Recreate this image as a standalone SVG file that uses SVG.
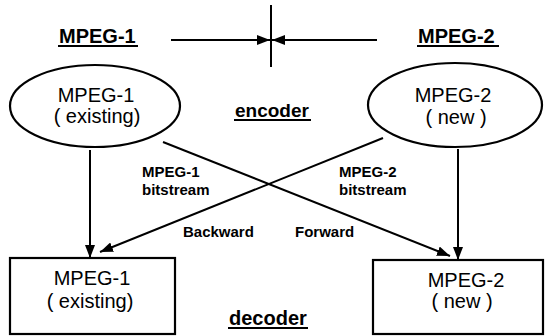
<svg xmlns="http://www.w3.org/2000/svg" width="550" height="336" viewBox="0 0 550 336">
<style>
  .ln { stroke: #000; stroke-width: 2; fill: none; }
  .shape { stroke: #000; stroke-width: 2.2; fill: #fff; }
  .big { font-family: "Liberation Sans", Arial, sans-serif; font-size: 20px; fill: #000; text-anchor: middle; }
  .lbl { font-family: "Liberation Sans", Arial, sans-serif; font-size: 15px; font-weight: bold; fill: #000; }
  .ttl { font-family: "Liberation Sans", Arial, sans-serif; font-size: 20px; font-weight: bold; fill: #000; }
  .ul { stroke: #000; stroke-width: 2; }
</style>
<defs>
  <marker id="ah" viewBox="0 0 13 10" refX="13" refY="5" markerWidth="13" markerHeight="10" markerUnits="userSpaceOnUse" orient="auto">
    <path d="M0,0 L13,5 L0,10 z" fill="#000"/>
  </marker>
</defs>

<g id="header">
  <text class="ttl" x="59" y="43">MPEG-1</text>
  <line class="ul" x1="58" y1="46" x2="138" y2="46"/>
  <text class="ttl" x="418" y="43">MPEG-2</text>
  <line class="ul" x1="417" y1="46" x2="499" y2="46"/>
  <line class="ln" x1="271" y1="5" x2="271" y2="67"/>
</g>

<g id="labels">
  <text class="ttl" x="235" y="117" style="font-size:19px">encoder</text>
  <line class="ul" x1="234" y1="120" x2="311" y2="120"/>
  <text class="ttl" x="229" y="325">decoder</text>
  <line class="ul" x1="228" y1="328" x2="308" y2="328"/>
</g>

<g id="enc1">
  <ellipse class="shape" cx="95" cy="106" rx="85" ry="41"/>
  <text class="big" x="96" y="102">MPEG-1</text>
  <text class="big" x="97" y="123">( existing)</text>
</g>

<g id="enc2">
  <ellipse class="shape" cx="455" cy="105" rx="87" ry="42"/>
  <text class="big" x="453" y="102">MPEG-2</text>
  <text class="big" x="456" y="124">( new )</text>
</g>

<g id="dec1">
  <rect class="shape" x="10" y="258" width="165" height="76"/>
  <text class="big" x="92" y="285">MPEG-1</text>
  <text class="big" x="90" y="308">( existing)</text>
</g>

<g id="dec2">
  <rect class="shape" x="373" y="260" width="170" height="74"/>
  <text class="big" x="466" y="287">MPEG-2</text>
  <text class="big" x="462" y="308">( new )</text>
</g>

<g id="connectors">
  <line class="ln" x1="171" y1="40" x2="270" y2="40" marker-end="url(#ah)"/>
  <line class="ln" x1="377" y1="40" x2="272" y2="40" marker-end="url(#ah)"/>
  <line class="ln" x1="90" y1="150" x2="90" y2="258" marker-end="url(#ah)"/>
  <line class="ln" x1="458" y1="149" x2="458" y2="260" marker-end="url(#ah)"/>
  <line class="ln" x1="163" y1="142" x2="450" y2="256" marker-end="url(#ah)"/>
  <line class="ln" x1="383" y1="138" x2="100" y2="252" marker-end="url(#ah)"/>
  <text class="lbl" x="142" y="177">MPEG-1</text>
  <text class="lbl" x="142" y="195">bitstream</text>
  <text class="lbl" x="339" y="177">MPEG-2</text>
  <text class="lbl" x="339" y="195">bitstream</text>
  <text class="lbl" x="183" y="237">Backward</text>
  <text class="lbl" x="295" y="237">Forward</text>
</g>
</svg>
